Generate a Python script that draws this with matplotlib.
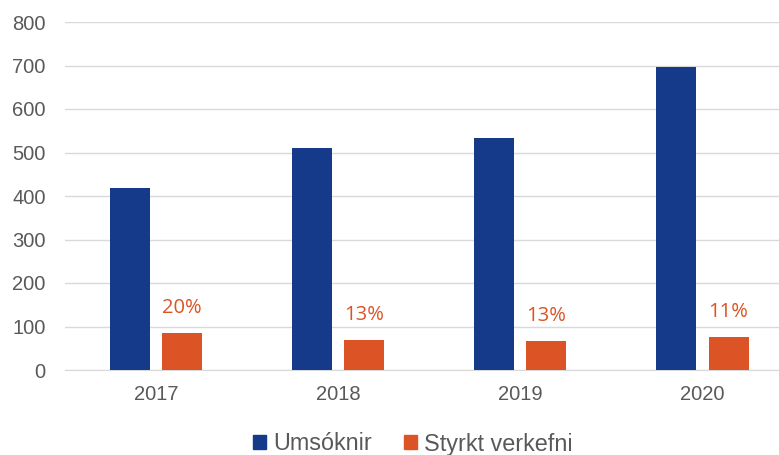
import matplotlib.pyplot as plt
import numpy as np
from matplotlib.patches import Patch

years = ['2017', '2018', '2019', '2020']
umsoknir = [418, 511, 534, 697]
styrkt = [85, 69, 67, 77]
hlutfall = ['20%', '13%', '13%', '11%']

blue = '#163A8A'
orange = '#DC5425'
grey = '#595959'

plt.rcParams['font.family'] = ['Liberation Sans', 'DejaVu Sans']

fig = plt.figure(figsize=(7.79, 4.55), dpi=100)
ax = fig.add_axes([65 / 779, 85 / 455, 714 / 779, 348 / 455])

x = np.arange(len(years))
w = 0.22
ax.bar(x - 0.143, umsoknir, w, color=blue, zorder=3)
ax.bar(x + 0.143, styrkt, w, color=orange, zorder=3)

# hlutfall styrktra verkefna
for xi, v, t in zip(x, styrkt, hlutfall):
    ax.annotate(t, (xi + 0.143, v), xytext=(0, 18), textcoords='offset points',
                ha='center', va='center', color=orange, fontsize=14.5,
                family=['Open Sans', 'DejaVu Sans'])

ax.set_xlim(-0.5, 3.42)
ax.set_ylim(0, 800)
ax.set_yticks(range(0, 801, 100))
ax.set_xticks(x)
ax.set_xticklabels(years)
ax.grid(axis='y', color='#d9d9d9', linewidth=1, zorder=0)
for s in ['top', 'right', 'left']:
    ax.spines[s].set_visible(False)
ax.spines['bottom'].set_color('#d9d9d9')
ax.tick_params(axis='both', length=0, labelsize=14.5, colors=grey)
ax.tick_params(axis='x', pad=11)
ax.tick_params(axis='y', pad=14)

handles = [Patch(color=blue, label='Umsóknir'), Patch(color=orange, label='Styrkt verkefni')]
fig.legend(handles=handles, loc='center', bbox_to_anchor=(413 / 779, 1 - 444 / 455),
           ncol=2, frameon=False, fontsize=16.8, labelcolor=grey,
           handlelength=0.55, handleheight=0.55, handletextpad=0.3, columnspacing=1.4)

fig.savefig('out.png', dpi=100)
